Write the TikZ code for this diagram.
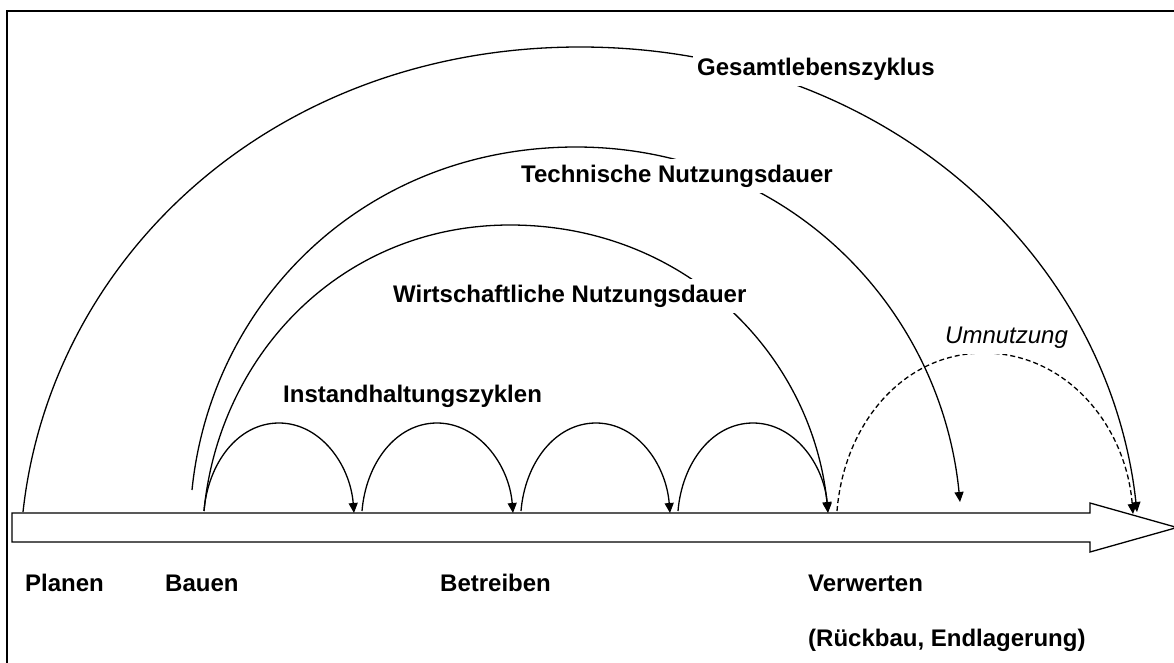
\documentclass[tikz,border=0pt]{standalone}
\usepackage{fontspec}
\setmainfont{Liberation Sans}
\usetikzlibrary{arrows.meta}
\begin{document}
\begin{tikzpicture}[x=1pt,y=-1pt,
  lbl/.style={font=\fontsize{24}{28}\selectfont\bfseries, anchor=base west, inner xsep=4pt, inner ysep=6pt, fill=white},
  ilbl/.style={font=\fontsize{24}{28}\selectfont\itshape, anchor=base west, inner xsep=4pt, inner ysep=6pt, fill=white},
  cyc/.style={line width=1.3pt, -{Triangle[length=10pt,width=9pt]}},
  dcyc/.style={cyc, dash pattern=on 5pt off 3pt},
  bar/.style={line width=1.3pt, fill=white},
  frame/.style={line width=1.6pt}]
\useasboundingbox (0,0) rectangle (1174,662);
\draw[frame] (7,11) rectangle (1200,700);

% time bar
\draw[bar] (12,513) -- (1090,513) -- (1090,503) -- (1177,527.5) -- (1090,552) -- (1090,542) -- (12,542) -- cycle;

% coordinates
\coordinate (gS) at (23,512);  \coordinate (gT) at (580,47);  \coordinate (gE) at (1137,512);
\coordinate (tS) at (192,490); \coordinate (tT) at (576,147); \coordinate (tE) at (960,502);
\coordinate (wS) at (204,511); \coordinate (wT) at (510,225); \coordinate (wE) at (828,512);
\coordinate (i1S) at (204,511); \coordinate (i1T) at (279,423); \coordinate (i1E) at (354,513);
\coordinate (i2S) at (362,511); \coordinate (i2T) at (437,423); \coordinate (i2E) at (513,513);
\coordinate (i3S) at (521,511); \coordinate (i3T) at (596,423); \coordinate (i3E) at (670,513);
\coordinate (i4S) at (678,511); \coordinate (i4T) at (753,423); \coordinate (i4E) at (828,513);
\coordinate (uS) at (837,511); \coordinate (uT) at (984,353); \coordinate (uE) at (1133,514);

% big arcs
\draw[cyc] (gS) .. controls +(28,-256) and +(-306,0) .. (gT) .. controls +(306,0) and +(-28,-256) .. (gE);
\draw[cyc] (tS) .. controls +(19,-189) and +(-211,0) .. (tT) .. controls +(211,0) and +(-19,-195) .. (tE);
\draw[cyc] (wS) .. controls +(15,-157) and +(-168,0) .. (wT) .. controls +(175,0) and +(-16,-158) .. (wE);

% maintenance cycles
\foreach \i in {1,2,3,4}{
  \draw[cyc] (i\i S) .. controls +(4,-48) and +(-41,0) .. (i\i T) .. controls +(41,0) and +(-4,-49) .. (i\i E);
}

% Umnutzung
\draw[dcyc] (uS) .. controls +(7,-87) and +(-81,0) .. (uT) .. controls +(82,0) and +(-7,-89) .. (uE);

% labels
\node[lbl] (lg) at (693,75) {Gesamtlebenszyklus};
\node[lbl] (lt) at (517,182) {Technische Nutzungsdauer};
\node[lbl] (lw) at (389,302) {Wirtschaftliche Nutzungsdauer};
\node[lbl] (li) at (279,402) {Instandhaltungszyklen};
\node[ilbl] (lu) at (941,343) {Umnutzung};

\node[lbl] (p1) at (21,591) {Planen};
\node[lbl] (p2) at (161,591) {Bauen};
\node[lbl] (p3) at (436,591) {Betreiben};
\node[lbl] (p4) at (804,591) {Verwerten};
\node[lbl] (p5) at (804,646) {(Rückbau, Endlagerung)};
\end{tikzpicture}
\end{document}
